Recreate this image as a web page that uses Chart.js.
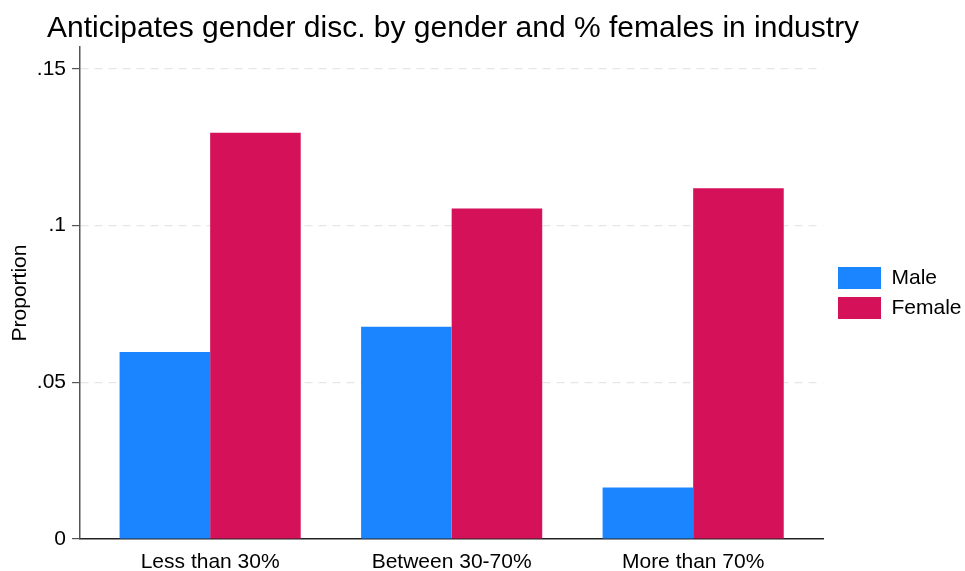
<!DOCTYPE html>
<html>
<head>
<meta charset="utf-8">
<script src="https://cdn.jsdelivr.net/npm/chart.js@4/dist/chart.umd.min.js"></script>
<style>
html,body{margin:0;padding:0;background:#fff;}
#wrap{width:965px;height:571px;}
</style>
</head>
<body>
<div id="wrap"><canvas id="c" width="965" height="571"></canvas></div>
<script>
const categories = ['Less than 30%', 'Between 30-70%', 'More than 70%'];
const seriesNames = ['Male', 'Female'];
const maleValues = [0.0597, 0.0677, 0.0164];
const femaleValues = [0.1296, 0.1055, 0.1119];
const yTickValues = [0, 0.05, 0.1, 0.15];
const titleText = 'Anticipates gender disc. by gender and % females in industry';
const yTitle = 'Proportion';

const FONT = "'Liberation Sans', Arial, sans-serif";
const toPts = arr => arr.map((v, i) => ({x: i, y: v}));

// fixed legend column width, legend nudged right, title start offset
const layoutFix = {
  id: 'layoutFix',
  afterInit(chart) {
    const lg = chart.legend;
    if (!lg) return;
    const f = lg.fit.bind(lg);
    lg.fit = function () { f(); this.width = 142; };
  },
  afterLayout(chart) {
    if (chart.legend) { chart.legend.left += 7; }
    if (chart.titleBlock) { chart.titleBlock.left = 47; }
  }
};

new Chart(document.getElementById('c'), {
  type: 'bar',
  plugins: [layoutFix],
  data: {
    datasets: [
      {label: seriesNames[0], data: toPts(maleValues), backgroundColor: '#1a85ff', borderWidth: 0},
      {label: seriesNames[1], data: toPts(femaleValues), backgroundColor: '#d41159', borderWidth: 0}
    ]
  },
  options: {
    responsive: false,
    animation: false,
    layout: {padding: {left: 0, right: 0, top: 0, bottom: 0}},
    datasets: {bar: {categoryPercentage: 0.75, barPercentage: 1.0}},
    plugins: {
      title: {
        display: true, text: titleText, fullSize: true, align: 'start',
        color: '#000', font: {family: FONT, size: 30, weight: 'normal', lineHeight: 1.2},
        padding: {top: 11, bottom: 0}
      },
      legend: {
        position: 'right', fullSize: false, align: 'center',
        labels: {
          boxWidth: 43, boxHeight: 22, padding: 8,
          color: '#000', font: {family: FONT, size: 21, lineHeight: 1.0}
        }
      },
      tooltip: {enabled: false}
    },
    scales: {
      x: {
        type: 'linear', offset: false,
        min: -0.5389, max: 2.5376,
        afterBuildTicks: s => { s.ticks = categories.map((c, i) => ({value: i})); },
        afterFit: s => { s.height = 32; },
        ticks: {
          autoSkip: false, maxRotation: 0, padding: 11,
          color: '#000', font: {family: FONT, size: 21},
          callback: v => categories[v]
        },
        grid: {display: false, drawTicks: false},
        border: {display: true, color: '#222', width: 1.5}
      },
      y: {
        min: 0, max: 0.157,
        afterBuildTicks: s => { s.ticks = yTickValues.map(v => ({value: v})); },
        afterFit: s => { s.width = 80; },
        ticks: {
          padding: 6, color: '#000', font: {family: FONT, size: 21},
          callback: v => v === 0 ? '0' : String(v).replace(/^0\./, '.')
        },
        grid: {
          drawTicks: true, tickLength: 8, tickColor: '#555',
          color: ctx => (ctx.tick && ctx.tick.value === 0) ? 'rgba(0,0,0,0)' : '#e6e6e6',
          lineWidth: 1.2
        },
        border: {display: true, color: '#555', width: 1.5, dash: [8, 6], dashOffset: 0},
        title: {
          display: true, text: yTitle, color: '#000',
          font: {family: FONT, size: 21}, padding: {top: 8, bottom: 0}
        }
      }
    }
  }
});
</script>
</body>
</html>
